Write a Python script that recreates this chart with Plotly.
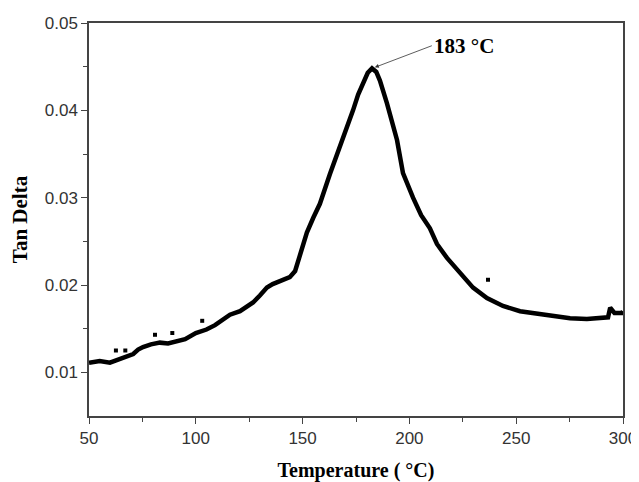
import plotly.graph_objects as go

temp = [50, 52, 55, 59.8, 63, 66, 70.7, 73, 75.3, 79, 83.2, 87, 91.2, 95, 100, 105, 109, 112.8, 116, 120.7, 124, 126.8, 130, 133.3, 136, 139.4, 142, 144, 146.5, 148.8, 152, 155, 158.1, 162.8, 167.5, 170.5, 173.6, 176, 178.3, 180.5, 182.5, 184.5, 186.2, 189.5, 194.2, 197, 201.7, 205.5, 209.6, 212.9, 217.6, 223.7, 229.8, 236.3, 243.8, 251.8, 259.7, 267.2, 275.2, 283.1, 290.6, 293, 294, 296, 299.5, 300]
tan_delta = [0.0111, 0.0112, 0.0113, 0.0111, 0.0114, 0.0116, 0.0121, 0.0126, 0.0129, 0.0132, 0.0134, 0.0133, 0.0135, 0.0138, 0.0145, 0.0149, 0.0154, 0.0161, 0.0166, 0.0170, 0.0175, 0.0180, 0.0188, 0.0197, 0.0201, 0.0204, 0.0206, 0.0209, 0.0216, 0.0234, 0.0260, 0.0277, 0.0293, 0.0327, 0.0358, 0.0378, 0.0400, 0.0418, 0.0432, 0.0443, 0.0448, 0.0444, 0.0434, 0.0408, 0.0366, 0.0328, 0.0300, 0.0280, 0.0265, 0.0247, 0.0231, 0.0213, 0.0197, 0.0185, 0.0176, 0.0170, 0.0167, 0.0164, 0.0162, 0.0161, 0.0162, 0.0163, 0.0174, 0.0168, 0.0168, 0.0170]

outlier_t = [62.6, 67, 80.9, 89, 103, 236.8]
outlier_v = [0.0125, 0.0125, 0.0143, 0.0145, 0.0159, 0.0206]

peak_t = 182.5
peak_v = 0.0448
peak_label = "183 °C"
label_t = 210.5
label_v = 0.0474

fig = go.Figure()
fig.add_trace(go.Scatter(x=temp, y=tan_delta, mode="lines",
                         line=dict(color="black", width=4.5), showlegend=False))
fig.add_trace(go.Scatter(x=outlier_t, y=outlier_v, mode="markers",
                         marker=dict(color="black", size=4, symbol="square"), showlegend=False))

fig.add_annotation(x=peak_t, y=peak_v, text="<b>" + peak_label + "</b>",
                   ax=label_t, ay=label_v, axref="x", ayref="y",
                   showarrow=True, arrowhead=2, arrowsize=1, arrowwidth=0.8,
                   arrowcolor="#333", standoff=3, xanchor="left", yanchor="middle",
                   font=dict(family="Liberation Serif", size=21, color="black"))

axis_common = dict(showline=True, linecolor="#444", linewidth=1.5, mirror=True,
                   ticks="outside", ticklen=6, tickwidth=1.2, tickcolor="#444",
                   showgrid=False, zeroline=False, automargin=False,
                   tickfont=dict(family="Liberation Sans", size=17, color="#333"))

fig.update_xaxes(range=[50, 300], tickmode="array", tickvals=[50, 100, 150, 200, 250, 300],
                 minor=dict(ticks="outside", ticklen=4, tickcolor="#444", tickvals=[75, 125, 175, 225, 275]),
                 title=dict(text="<b>Temperature ( °C)</b>", standoff=27,
                            font=dict(family="Liberation Serif", size=20, color="black")),
                 **axis_common)
fig.update_yaxes(range=[0.005, 0.05], tickmode="array", tickvals=[0.01, 0.02, 0.03, 0.04, 0.05],
                 ticktext=["0.01", "0.02", "0.03", "0.04", "0.05"],
                 minor=dict(ticks="outside", ticklen=4, tickcolor="#444", tickvals=[0.015, 0.025, 0.035, 0.045]),
                 title=dict(text="<b>Tan Delta</b>", standoff=14,
                            font=dict(family="Liberation Serif", size=21, color="black")),
                 **axis_common)

# page body has an 8px default margin, so the figure is sized/offset to compensate
fig.update_layout(width=631, height=474, margin=dict(l=81, r=16, t=15, b=66),
                  plot_bgcolor="white", paper_bgcolor="white")

fig.write_html("out.html")
